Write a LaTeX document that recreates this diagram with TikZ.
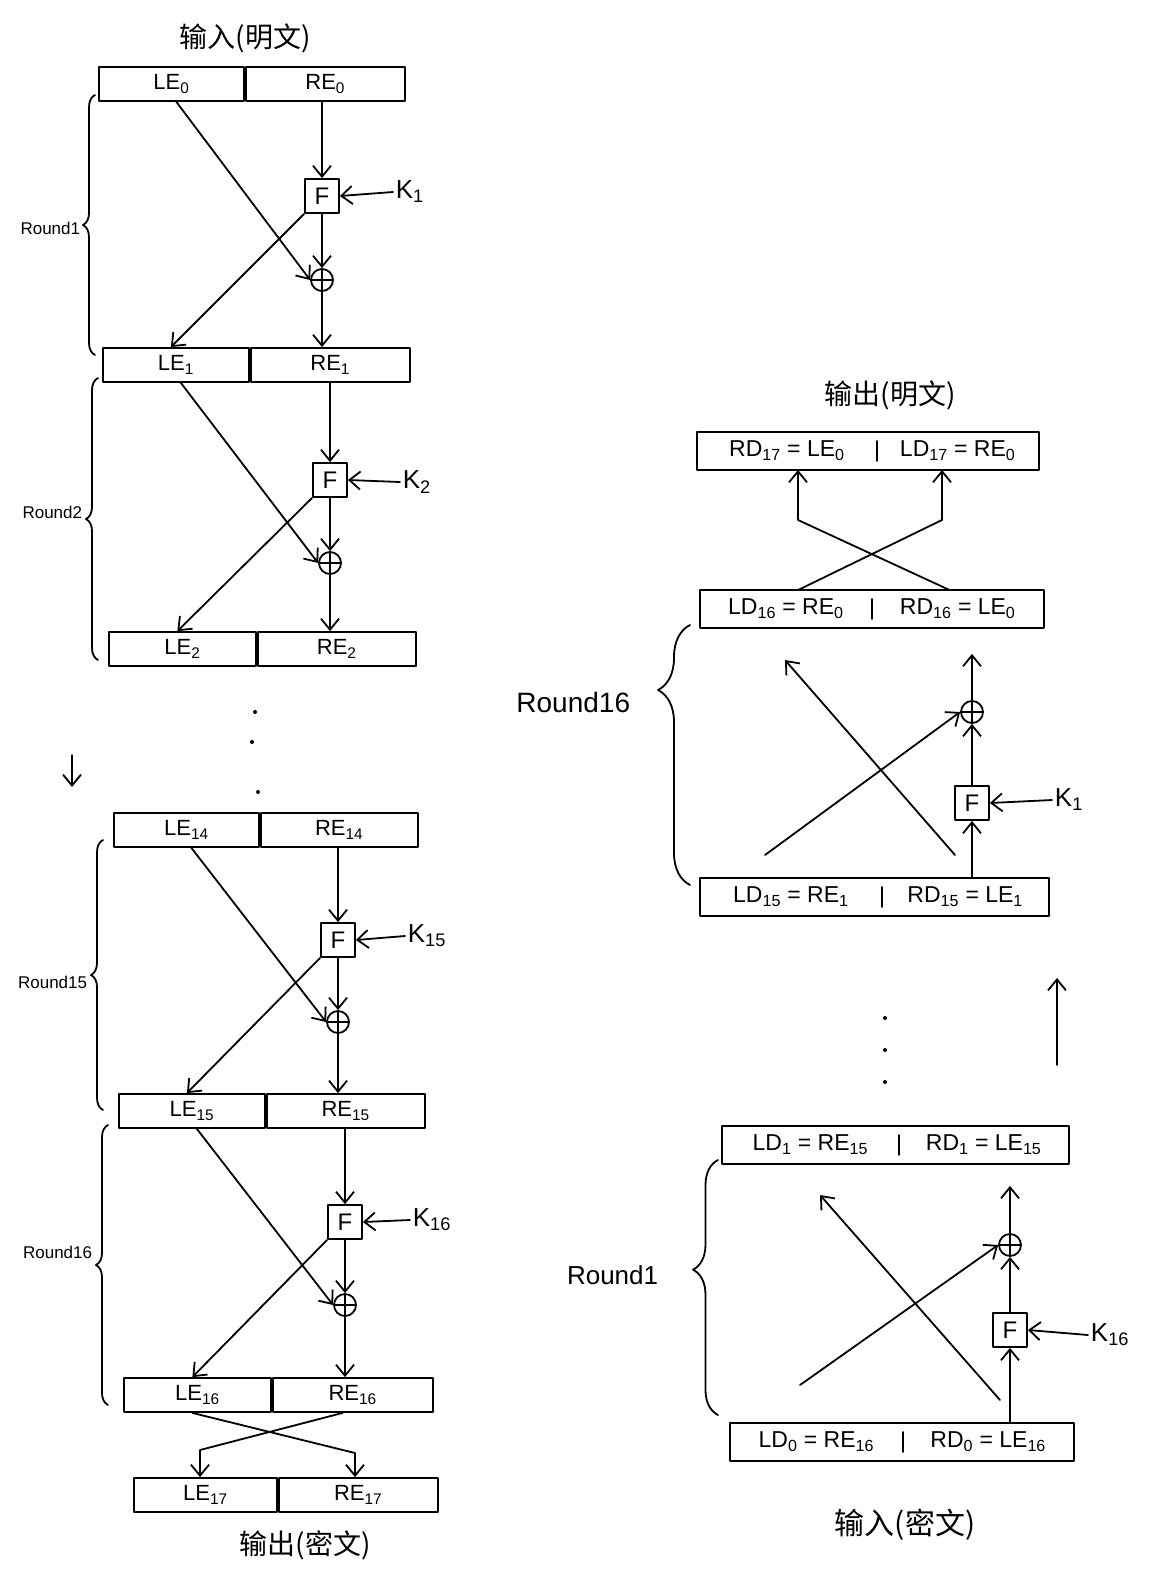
\documentclass[tikz,border=0pt]{standalone}
\usepackage{fontspec}
\setmainfont{Liberation Sans}
\newfontfamily\cjk{Noto Sans CJK SC}
\usetikzlibrary{arrows.meta,decorations.pathreplacing}
\begin{document}
\begin{tikzpicture}[x=1pt,y=-1pt, line width=1.8pt, line cap=round, line join=round,
 arr/.style={-{Straight Barb[length=11pt,width=18pt,line width=1.8pt]}},
 cell/.style={draw, anchor=west, minimum height=34pt, inner sep=0pt, font=\fontsize{22}{24}\selectfont},
 rcell/.style={anchor=west, minimum height=36pt, inner sep=0pt, font=\fontsize{23}{25}\selectfont},
 fbox/.style={draw, minimum size=34pt, inner sep=0pt, font=\fontsize{24}{26}\selectfont},
 xor/.style={circle, draw, minimum size=22pt, inner sep=0pt, path picture={\draw[line width=1.5pt] (path picture bounding box.north) -- (path picture bounding box.south) (path picture bounding box.west) -- (path picture bounding box.east);}},
 key/.style={font=\fontsize{26}{28}\selectfont, anchor=west, inner sep=2pt},
 rnd/.style={font=\fontsize{17}{19}\selectfont, anchor=east, inner sep=1pt},
 brc/.style={decorate, decoration={brace, amplitude=12pt}},
 ttl/.style={font=\cjk\fontsize{28}{30}\selectfont},
 dot/.style={circle, fill, inner sep=0pt, minimum size=4pt}]
\useasboundingbox[fill=white] (0,0) rectangle (1170,1575);

% ---------------- left column ----------------
\node[ttl] (in1) at (245,38) {输入(明文)};

\node[cell, minimum width=145pt] (b0l) at (98,84) {LE\textsubscript{0}};
\node[cell, minimum width=159pt] (b0r) at (b0l.east) {RE\textsubscript{0}};
\node[cell, minimum width=146pt] (b1l) at (102,365) {LE\textsubscript{1}};
\node[cell, minimum width=159pt] (b1r) at (b1l.east) {RE\textsubscript{1}};
\node[cell, minimum width=147pt] (b2l) at (108,649) {LE\textsubscript{2}};
\node[cell, minimum width=158pt] (b2r) at (b2l.east) {RE\textsubscript{2}};
\node[cell, minimum width=145pt] (b14l) at (113,830) {LE\textsubscript{14}};
\node[cell, minimum width=157pt] (b14r) at (b14l.east) {RE\textsubscript{14}};
\node[cell, minimum width=146pt] (b15l) at (118,1111) {LE\textsubscript{15}};
\node[cell, minimum width=158pt] (b15r) at (b15l.east) {RE\textsubscript{15}};
\node[cell, minimum width=147pt] (b16l) at (123,1395) {LE\textsubscript{16}};
\node[cell, minimum width=160pt] (b16r) at (b16l.east) {RE\textsubscript{16}};
\node[cell, minimum width=143pt] (b17l) at (133,1495) {LE\textsubscript{17}};
\node[cell, minimum width=159pt] (b17r) at (b17l.east) {RE\textsubscript{17}};
\node[ttl] (out1) at (305,1545) {输出(密文)};

% round 1
\node[fbox] (f1) at (322,196) {F};
\node[xor] (x1) at (322,280) {};
\node[key] (k1) at (393,192) {K\textsubscript{1}};
% round 2
\node[fbox] (f2) at (330,480) {F};
\node[xor] (x2) at (330,563) {};
\node[key] (k2) at (400,482) {K\textsubscript{2}};
% round 15
\node[fbox] (f15) at (338,940) {F};
\node[xor] (x15) at (338,1022) {};
\node[key] (k15) at (405,936) {K\textsubscript{15}};
% round 16
\node[fbox] (f16) at (345,1222) {F};
\node[xor] (x16) at (345,1305) {};
\node[key] (k16) at (410,1220) {K\textsubscript{16}};

\foreach \a/\b/\f/\x/\k/\c/\d in {b0l/b0r/f1/x1/k1/b1l/b1r, b1l/b1r/f2/x2/k2/b2l/b2r, b14l/b14r/f15/x15/k15/b15l/b15r, b15l/b15r/f16/x16/k16/b16l/b16r}{
  \draw[arr] (\f.north |- \b.south) -- (\f.north);
  \draw[arr] (\f.south) -- (\x.north);
  \draw[arr] (\x.south) -- (\x.south |- \d.north);
  \draw[arr] (\k.west) -- (\f.east);
  \draw[arr] ([xshift=5pt]\a.south) -- (\x.west);
  \draw[arr] (\f.south west) -- ([xshift=-5pt]\c.north);
}

% final swap
\coordinate (s1) at (355,1453);
\coordinate (s2) at (200,1450);
\draw[arr] ([xshift=-5pt]b16l.south) -- (s1) -- (s1 |- b17r.north);
\draw[arr] ([xshift=-10pt]b16r.south) -- (s2) -- (s2 |- b17l.north);

% braces
\draw[brc] (95,355) -- (95,95);
\node[rnd] (r1) at (82,228) {Round1};
\draw[brc] (98,660) -- (98,378);
\node[rnd] (r2) at (84,512) {Round2};
\draw[brc] (103,1110) -- (103,840);
\node[rnd] (r15) at (89,982) {Round15};
\draw[brc] (108,1405) -- (108,1125);
\node[rnd] (r16) at (94,1252) {Round16};

% dots and arrow
\node[dot] (dl1) at (255,712) {};
\node[dot] (dl2) at (252,742) {};
\node[dot] (dl3) at (258,792) {};
\coordinate (da1) at (72,755);
\coordinate (da2) at (72,787);
\draw[arr] (da1) -- (da2);

% ---------------- right column ----------------
\node[ttl] (out2) at (890,395) {输出(明文)};

\node[rcell, minimum width=178pt] (r17l) at (697,451) {RD\textsubscript{17} = LE\textsubscript{0}};
\node[rcell, minimum width=160pt] (r17r) at (r17l.east) {LD\textsubscript{17} = RE\textsubscript{0}};
\node[rcell, minimum width=170pt] (r16l) at (700,609) {LD\textsubscript{16} = RE\textsubscript{0}};
\node[rcell, minimum width=170pt] (r16r) at (r16l.east) {RD\textsubscript{16} = LE\textsubscript{0}};
\node[rcell, minimum width=180pt] (r15l) at (700,897) {LD\textsubscript{15} = RE\textsubscript{1}};
\node[rcell, minimum width=165pt] (r15r) at (r15l.east) {RD\textsubscript{15} = LE\textsubscript{1}};
\node[rcell, minimum width=175pt] (r1l) at (722,1145) {LD\textsubscript{1} = RE\textsubscript{15}};
\node[rcell, minimum width=168pt] (r1r) at (r1l.east) {RD\textsubscript{1} = LE\textsubscript{15}};
\node[rcell, minimum width=171pt] (r0l) at (730,1442) {LD\textsubscript{0} = RE\textsubscript{16}};
\node[rcell, minimum width=169pt] (r0r) at (r0l.east) {RD\textsubscript{0} = LE\textsubscript{16}};
\node[ttl, font=\cjk\fontsize{30}{32}\selectfont] (in2) at (905,1525) {输入(密文)};

\foreach \l/\r in {r17l/r17r, r16l/r16r, r15l/r15r, r1l/r1r, r0l/r0r}{
  \draw (\l.north west) rectangle (\r.south east);
  \draw ([yshift=-9pt]\l.north east) -- ([yshift=9pt]\l.south east);
}

% swap at top
\coordinate (t1) at (798,520);
\coordinate (t2) at (942,520);
\draw[arr] ([xshift=-8pt]r16r.north) -- (t1) -- (t1 |- r17l.south);
\draw[arr] ([xshift=12pt]r16l.north) -- (t2) -- (t2 |- r17r.south);

% right round 16
\node[fbox] (fr1) at (972,803) {F};
\node[xor] (xr1) at (972,712) {};
\node[key] (kr1) at (1052,800) {K\textsubscript{1}};
\draw[arr] (fr1.south |- r15r.north) -- (fr1.south);
\draw[arr] (fr1.north) -- (xr1.south);
\draw[arr, shorten >=26pt] (xr1.north) -- (xr1.north |- r16r.south);
\draw[arr] (kr1.west) -- (fr1.east);
\coordinate (g1) at (765,855);
\coordinate (g2) at (955,855);
\coordinate (g3) at (785,660);
\draw[arr] (g1) -- (xr1.west);
\draw[arr] (g2) -- (g3);
\draw[decorate, decoration={brace, amplitude=32pt, aspect=0.75}] (690,885) -- (690,625);
\node[rnd, font=\fontsize{28}{30}\selectfont] (rr16) at (632,702) {Round16};

% right round 1
\node[fbox] (fr16) at (1010,1330) {F};
\node[xor] (xr16) at (1010,1245) {};
\node[key] (kr16) at (1088,1335) {K\textsubscript{16}};
\draw[arr] (fr16.south |- r0r.north) -- (fr16.south);
\draw[arr] (fr16.north) -- (xr16.south);
\draw[arr, shorten >=22pt] (xr16.north) -- (xr16.north |- r1r.south);
\draw[arr] (kr16.west) -- (fr16.east);
\coordinate (h1) at (800,1385);
\coordinate (h2) at (1000,1400);
\coordinate (h3) at (820,1195);
\draw[arr] (h1) -- (xr16.west);
\draw[arr] (h2) -- (h3);
\draw[decorate, decoration={brace, amplitude=25pt, aspect=0.57}] (718,1415) -- (718,1160);
\node[rnd, font=\fontsize{26}{28}\selectfont] (rr1) at (660,1275) {Round1};

% dots and arrow
\node[dot] (dr1) at (885,1018) {};
\node[dot] (dr2) at (885,1050) {};
\node[dot] (dr3) at (885,1082) {};
\coordinate (ua1) at (1057,1065);
\coordinate (ua2) at (1057,978);
\draw[arr] (ua1) -- (ua2);
\end{tikzpicture}
\end{document}
